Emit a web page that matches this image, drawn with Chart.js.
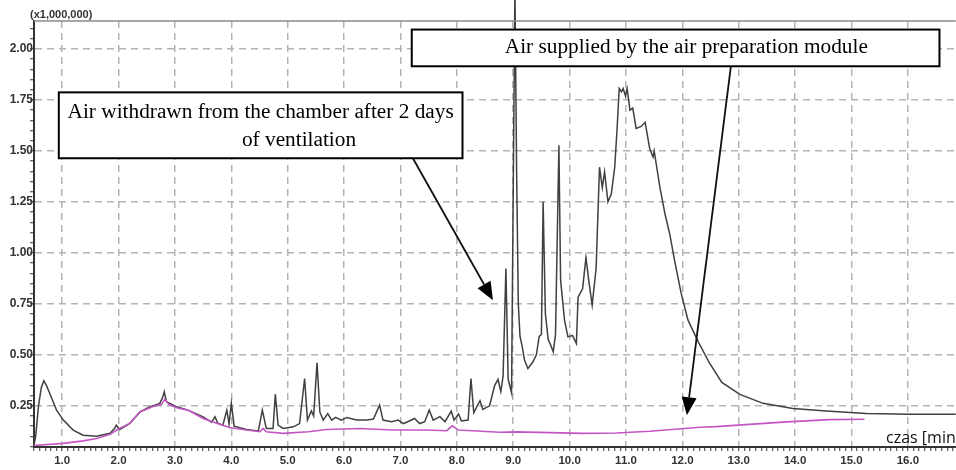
<!DOCTYPE html>
<html>
<head>
<meta charset="utf-8">
<script src="https://cdn.jsdelivr.net/npm/chart.js@4.4.1/dist/chart.umd.min.js"></script>
<style>
    html, body { margin: 0; padding: 0; background: #fff; overflow: hidden; }
    #wrap { position: relative; width: 956px; height: 470px; }
</style>
</head>
<body>
<div id="wrap"><canvas id="chromChart"></canvas></div>
<script>
// retention time [min] / intensity (x1,000,000)
const sampleTime = [
    0.50, 0.53, 0.58, 0.63, 0.675, 0.72, 0.78, 0.90, 1.02, 1.195, 1.37, 1.61, 1.85, 1.93, 1.96, 2.02,
    2.20, 2.38, 2.55, 2.73, 2.78, 2.81, 2.85, 3.03, 3.23, 3.50, 3.65, 3.71, 3.76, 3.85, 3.92, 3.96,
    4.00, 4.05, 4.27, 4.48, 4.55, 4.62, 4.74, 4.78, 4.83, 4.92, 5.10, 5.21, 5.30, 5.35, 5.42, 5.46,
    5.52, 5.57, 5.63, 5.71, 5.78, 5.85, 5.95, 6.05, 6.22, 6.40, 6.52, 6.63, 6.69, 6.84, 6.96, 7.05,
    7.13, 7.25, 7.34, 7.43, 7.51, 7.58, 7.70, 7.79, 7.90, 7.95, 8.03, 8.08, 8.20, 8.25, 8.30, 8.41,
    8.46, 8.58, 8.67, 8.73, 8.78, 8.82, 8.87, 8.91, 8.97, 9.03, 9.06, 9.09, 9.12, 9.16, 9.20, 9.26,
    9.35, 9.41, 9.46, 9.50, 9.53, 9.57, 9.62, 9.66, 9.71, 9.75, 9.81, 9.84, 9.91, 9.97, 10.05, 10.12,
    10.15, 10.23, 10.29, 10.34, 10.40, 10.47, 10.53, 10.58, 10.62, 10.68, 10.74, 10.80, 10.84, 10.88, 10.92, 10.95,
    10.99, 11.02, 11.07, 11.12, 11.18, 11.27, 11.34, 11.42, 11.48, 11.50, 11.60, 11.69, 11.78, 11.86, 11.98, 12.10,
    12.28, 12.48, 12.70, 13.02, 13.43, 13.96, 14.55, 15.26, 16.03, 16.85
];
const sampleSignal = [
    0.06, 0.10, 0.25, 0.34, 0.373, 0.35, 0.31, 0.229, 0.18, 0.131, 0.106, 0.101, 0.115, 0.14, 0.155, 0.134,
    0.164, 0.22, 0.245, 0.262, 0.29, 0.319, 0.27, 0.245, 0.229, 0.196, 0.17, 0.196, 0.165, 0.155, 0.229, 0.16,
    0.262, 0.15, 0.134, 0.127, 0.229, 0.139, 0.139, 0.307, 0.155, 0.139, 0.147, 0.163, 0.384, 0.18, 0.225, 0.20,
    0.461, 0.22, 0.18, 0.212, 0.18, 0.193, 0.18, 0.193, 0.18, 0.18, 0.185, 0.253, 0.18, 0.172, 0.18, 0.163,
    0.172, 0.188, 0.163, 0.172, 0.229, 0.18, 0.197, 0.172, 0.224, 0.18, 0.21, 0.176, 0.18, 0.384, 0.217, 0.275,
    0.232, 0.25, 0.349, 0.38, 0.32, 0.395, 0.923, 0.38, 0.314, 2.30, 1.40, 0.75, 0.59, 0.54, 0.474, 0.433,
    0.466, 0.50, 0.59, 0.60, 1.25, 0.703, 0.575, 0.55, 0.515, 0.60, 1.528, 0.866, 0.67, 0.588, 0.595, 0.556,
    0.783, 0.824, 0.977, 0.864, 0.744, 0.924, 1.42, 1.32, 1.397, 1.25, 1.29, 1.42, 1.60, 1.806, 1.79, 1.806,
    1.77, 1.806, 1.70, 1.71, 1.61, 1.62, 1.64, 1.512, 1.47, 1.50, 1.324, 1.193, 1.087, 0.964, 0.80, 0.67,
    0.565, 0.46, 0.365, 0.306, 0.262, 0.237, 0.224, 0.212, 0.208, 0.208
];

const supplyTime = [
    0.50, 1.02, 1.37, 1.61, 1.85, 1.98, 2.20, 2.38, 2.60, 2.76, 2.82, 2.90, 3.06, 3.23, 3.50, 3.74,
    3.97, 4.27, 4.51, 4.56, 4.62, 4.92, 5.37, 5.69, 6.28, 6.87, 7.46, 7.82, 7.92, 8.03, 8.76, 9.06,
    10.24, 10.83, 11.42, 12.31, 12.60, 13.78, 14.61, 15.23
];
const supplySignal = [
    0.055, 0.066, 0.078, 0.09, 0.11, 0.134, 0.164, 0.22, 0.245, 0.257, 0.282, 0.255, 0.238, 0.229, 0.188, 0.164,
    0.144, 0.131, 0.123, 0.139, 0.123, 0.115, 0.123, 0.134, 0.139, 0.131, 0.131, 0.128, 0.152, 0.131, 0.12, 0.122,
    0.115, 0.117, 0.125, 0.145, 0.148, 0.17, 0.182, 0.184
];

const xTickValues = Array.from({ length: 164 }, (_, i) => (i + 5) / 10); // minor ticks every 0.1 min
const yTickValues = Array.from({ length: 42 }, (_, i) => (i + 1) * 0.05);

// callouts, anchored in data units
const callouts = [
    {
        box: [0.94, 1.787, 8.10, 1.464],
        lines: [
            { text: 'Air withdrawn from the chamber after 2 days', at: [4.52, 1.69] },
            { text: 'of ventilation', at: [5.20, 1.552] }
        ],
        arrow: [7.22, 1.464, 8.64, 0.768]
    },
    {
        box: [7.20, 2.095, 16.56, 1.915],
        lines: [
            { text: 'Air supplied by the air preparation module', at: [12.07, 2.008] }
        ],
        arrow: [12.86, 1.915, 12.08, 0.204]
    }
];

const isMajorX = v => Math.abs(v - Math.round(v)) < 1e-6;
const isMajorY = v => Math.abs(v / 0.25 - Math.round(v / 0.25)) < 1e-6;

const calloutPlugin = {
    id: 'callouts',
    afterDraw(chart) {
        const { ctx, scales: { x, y }, chartArea } = chart;
        ctx.save();
        // top frame
        ctx.strokeStyle = '#8a8a8a';
        ctx.lineWidth = 1.5;
        ctx.beginPath();
        ctx.moveTo(chartArea.left, chartArea.top);
        ctx.lineTo(chartArea.right, chartArea.top);
        ctx.stroke();

        ctx.fillStyle = '#333';
        ctx.font = 'bold 11px "Liberation Sans", Arial, sans-serif';
        ctx.textBaseline = 'alphabetic';
        ctx.textAlign = 'left';
        ctx.fillText('(x1,000,000)', 30, 18);

        ctx.fillStyle = '#111';
        ctx.font = '16px "Liberation Sans Narrow", "Open Sans", sans-serif';
        ctx.fillText('czas [min]', 886, 443);

        callouts.forEach(c => {
            const x0 = x.getPixelForValue(c.box[0]), y0 = y.getPixelForValue(c.box[1]);
            const x1 = x.getPixelForValue(c.box[2]), y1 = y.getPixelForValue(c.box[3]);

            // arrow
            const ax = x.getPixelForValue(c.arrow[0]), ay = y.getPixelForValue(c.arrow[1]);
            const bx = x.getPixelForValue(c.arrow[2]), by = y.getPixelForValue(c.arrow[3]);
            const ang = Math.atan2(by - ay, bx - ax);
            const headLen = 18, headW = 7.5;
            ctx.strokeStyle = '#111';
            ctx.lineWidth = 1.8;
            ctx.beginPath();
            ctx.moveTo(ax, ay);
            ctx.lineTo(bx - Math.cos(ang) * headLen, by - Math.sin(ang) * headLen);
            ctx.stroke();
            ctx.fillStyle = '#000';
            ctx.beginPath();
            ctx.moveTo(bx, by);
            ctx.lineTo(bx - Math.cos(ang) * headLen - Math.sin(ang) * headW, by - Math.sin(ang) * headLen + Math.cos(ang) * headW);
            ctx.lineTo(bx - Math.cos(ang) * headLen + Math.sin(ang) * headW, by - Math.sin(ang) * headLen - Math.cos(ang) * headW);
            ctx.closePath();
            ctx.fill();

            // box
            ctx.fillStyle = '#fff';
            ctx.fillRect(x0, y0, x1 - x0, y1 - y0);
            ctx.strokeStyle = '#000';
            ctx.lineWidth = 2;
            ctx.strokeRect(x0, y0, x1 - x0, y1 - y0);

            ctx.fillStyle = '#000';
            ctx.font = '21.3px "Liberation Serif", "Times New Roman", serif';
            ctx.textAlign = 'center';
            ctx.textBaseline = 'middle';
            c.lines.forEach(l => {
                ctx.fillText(l.text, x.getPixelForValue(l.at[0]), y.getPixelForValue(l.at[1]));
            });
        });
        ctx.restore();
    }
};

const ctx = document.getElementById('chromChart');
new Chart(ctx, {
    type: 'line',
    data: {
        datasets: [
            {
                label: 'Air supplied by the air preparation module',
                data: supplyTime.map((t, i) => ({ x: t, y: supplySignal[i] })),
                borderColor: '#c456c4',
                borderWidth: 1.6,
                pointRadius: 0,
                tension: 0,
                order: 0
            },
            {
                label: 'Air withdrawn from the chamber after 2 days of ventilation',
                data: sampleTime.map((t, i) => ({ x: t, y: sampleSignal[i] })),
                borderColor: '#404040',
                borderWidth: 1.5,
                pointRadius: 0,
                tension: 0,
                clip: false,
                order: 1
            }
        ]
    },
    options: {
        responsive: true,
        maintainAspectRatio: false,
        animation: false,
        layout: { padding: { top: 21, right: 0, left: 0, bottom: 0 } },
        plugins: {
            legend: { display: false },
            tooltip: { enabled: false }
        },
        scales: {
            x: {
                type: 'linear',
                min: 0.5,
                max: 16.85,
                afterBuildTicks: s => { s.ticks = xTickValues.map(v => ({ value: v })); },
                afterFit: s => { s.height = 23; },
                grid: {
                    color: c => (c.tick && isMajorX(c.tick.value)) ? '#b4b4b4' : 'rgba(0,0,0,0)',
                    lineWidth: 1.5,
                    tickColor: '#333',
                    tickLength: 4,
                    tickWidth: 1
                },
                border: { display: true, color: '#333', width: 2, dash: [7, 5] },
                ticks: {
                    autoSkip: false,
                    maxRotation: 0,
                    minRotation: 0,
                    padding: 3,
                    color: '#333',
                    font: { family: '"Liberation Sans", Arial, sans-serif', size: 11.5, weight: 'bold' },
                    callback: v => isMajorX(v) ? v.toFixed(1) : ''
                }
            },
            y: {
                min: 0.048,
                max: 2.137,
                afterBuildTicks: s => { s.ticks = yTickValues.map(v => ({ value: v })); },
                afterFit: s => { s.width = 34; },
                grid: {
                    color: c => (c.tick && isMajorY(c.tick.value)) ? '#b4b4b4' : 'rgba(0,0,0,0)',
                    lineWidth: 1.5,
                    tickColor: '#333',
                    tickLength: 4,
                    tickWidth: 1
                },
                border: { display: true, color: '#333', width: 2, dash: [7, 5] },
                ticks: {
                    autoSkip: false,
                    padding: -3,
                    color: '#333',
                    font: { family: '"Liberation Sans", Arial, sans-serif', size: 12, weight: 'bold' },
                    callback: v => isMajorY(v) ? v.toFixed(2) : ''
                }
            }
        }
    },
    plugins: [calloutPlugin]
});
</script>
</body>
</html>
